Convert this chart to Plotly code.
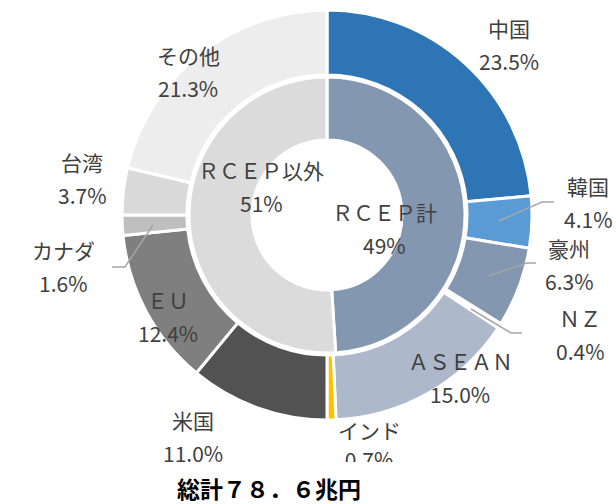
import plotly.graph_objects as go

W, H = 616, 504

outer_labels = ["中国", "韓国", "豪州", "ＮＺ", "ＡＳＥＡＮ", "インド", "米国", "ＥＵ", "カナダ", "台湾", "その他"]
outer_values = [23.5, 4.1, 6.3, 0.4, 15.0, 0.7, 11.0, 12.4, 1.6, 3.7, 21.3]
outer_colors = ["#2E75B6", "#5B9BD5", "#8497B0", "#FFFFFF", "#ADB9CA", "#FFC000",
                "#525252", "#7F7F7F", "#BFBFBF", "#D9D9D9", "#EDEDED"]

inner_labels = ["ＲＣＥＰ計", "ＲＣＥＰ以外"]
inner_values = [49, 51]
inner_colors = ["#8497B0", "#DBDBDB"]

title_text = "総計７８．６兆円"

# geometry (pixels)
cx, cy = 327, 215
r_out, r_out_hole = 205, 140
r_in, r_in_hole = 138, 75


def dom(r):
    return dict(x=[(cx - r) / W, (cx + r) / W], y=[(H - cy - r) / H, (H - cy + r) / H])


fig = go.Figure()
fig.add_trace(go.Pie(
    labels=outer_labels, values=outer_values, sort=False, direction="clockwise", rotation=0,
    hole=r_out_hole / r_out, domain=dom(r_out),
    marker=dict(colors=outer_colors, line=dict(color="white", width=3)),
    textinfo="none", hoverinfo="label+value", showlegend=False,
))
fig.add_trace(go.Pie(
    labels=inner_labels, values=inner_values, sort=False, direction="clockwise", rotation=0,
    hole=r_in_hole / r_in, domain=dom(r_in),
    marker=dict(colors=inner_colors, line=dict(color="white", width=3)),
    textinfo="none", hoverinfo="label+value", showlegend=False,
))

FONT = "Noto Sans CJK JP"
TC = "#404040"
FS = 21
DY = 33

# label positions (pixels, centre of name line)
label_pos = {
    "中国": (509, 28), "韓国": (588, 186), "豪州": (569, 248), "ＮＺ": (580, 318),
    "ＡＳＥＡＮ": (460, 361), "インド": (369, 430), "米国": (193, 420), "ＥＵ": (168, 300),
    "カナダ": (63, 250), "台湾": (82, 162), "その他": (188, 55),
}
inner_pos = {"ＲＣＥＰ計": (384, 212), "ＲＣＥＰ以外": (261, 170)}

ann = []


def txt(x, y, text, size=FS, color=TC):
    ann.append(dict(x=x / W, y=1 - y / H, xref="paper", yref="paper", text=text,
                    xanchor="center", yanchor="middle", showarrow=False,
                    font=dict(family=FONT, size=size, color=color)))


for lab, val in zip(outer_labels, outer_values):
    x, y = label_pos[lab]
    txt(x, y, lab)
    if lab != "インド":
        txt(x, y + DY, f"{val:.1f}%")

for lab, val in zip(inner_labels, inner_values):
    x, y = inner_pos[lab]
    txt(x, y, lab)
    txt(x, y + DY, f"{val}%")

txt(269, 488, "<b>" + title_text + "</b>", size=23, color="#000000")

# clipped India percentage via scatter text in a clipped subplot
clip_bottom = 462
fig.add_trace(go.Scatter(
    x=[369], y=[H - 463], mode="text", text=[f"{outer_values[5]:.1f}%"],
    textfont=dict(family=FONT, size=FS, color=TC), cliponaxis=True,
    hoverinfo="skip", showlegend=False,
))

# leader lines
leaders = [
    [(499, 221), (542, 202), (554, 202)],
    [(489, 276), (527, 263), (536, 263)],
    [(471, 309), (511, 333), (522, 333)],
    [(153, 225), (125, 267), (112, 267)],
]
shapes = []
for pts in leaders:
    path = "M " + " L ".join(f"{px / W},{1 - py / H}" for px, py in pts)
    shapes.append(dict(type="path", xref="paper", yref="paper", path=path,
                       line=dict(color="#A6A6A6", width=1.5)))

fig.update_layout(
    width=W, height=H, margin=dict(l=0, r=0, t=0, b=0),
    paper_bgcolor="white", plot_bgcolor="rgba(0,0,0,0)",
    annotations=ann, shapes=shapes,
    xaxis=dict(range=[0, W], domain=[0, 1], visible=False, fixedrange=True),
    yaxis=dict(range=[H - clip_bottom, H], domain=[(H - clip_bottom) / H, 1], visible=False, fixedrange=True),
    showlegend=False,
)

fig.write_html("out.html", config={"displayModeBar": False},
               post_script="document.body.style.margin='0';document.body.style.overflow='hidden';")
